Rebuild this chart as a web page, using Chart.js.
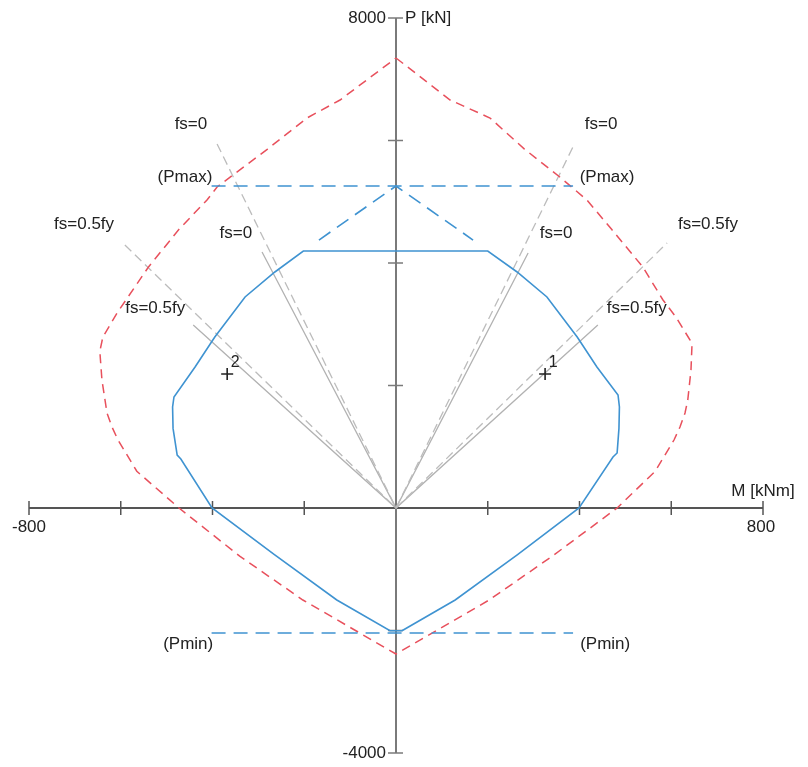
<!DOCTYPE html>
<html>
<head>
<meta charset="utf-8">
<title>P-M interaction diagram</title>
<script src="https://cdn.jsdelivr.net/npm/chart.js@4/dist/chart.umd.min.js"></script>
<style>
  html, body { margin: 0; padding: 0; background: #ffffff; }
  canvas { display: block; }
</style>
</head>
<body>
<canvas id="chart" width="808" height="767"></canvas>
<script>
// Design interaction envelope (phi-reduced), M in kNm, P in kN
const designM = [13, 129, 265, 399, 473, 482, 486, 487, 484, 438, 395, 329, 264, 200,
                 -202, -264, -329, -395, -438, -484, -487, -486, -477, -469, -401, -265, -129, -13, 13];
const designP = [-2005, -1502, -760, 0, 833, 898, 1300, 1649, 1845, 2302, 2792, 3445, 3853, 4196,
                 4196, 3853, 3445, 2792, 2302, 1812, 1649, 1300, 865, 800, 0, -760, -1502, -2005, -2005];

// Nominal interaction envelope
const nominalM = [0, 118, 205, 280, 357, 416, 470, 538, 582, 610, 641, 645, 643, 636, 630, 619, 606, 565, 482, 340, 203, 0,
                  -203, -340, -473, -565, -606, -619, -630, -641, -645, -645, -639, -608, -540, -473, -412, -390, -280, -194, -122, 0];
const nominalP = [7347, 6661, 6367, 5860, 5404, 5029, 4550, 3935, 3396, 3118, 2743, 2629, 2250, 1763, 1551, 1322, 1110, 600, 0, -790, -1502, -2384,
                  -1502, -790, 0, 600, 1110, 1322, 1551, 2090, 2498, 2580, 2792, 3184, 3930, 4550, 5029, 5241, 5860, 6367, 6661, 7347];

// Axial load limits
const pmaxM = [-402, 386];
const pmaxP = [5257, 5257];
const pminM = [-402, 386];
const pminP = [-2040, -2040];
const roofM = [-168, 0, 168];
const roofP = [4375, 5257, 4375];

// Steel stress rays through the origin (fs = 0 and fs = 0.5fy)
const fs0NominalM = [-390, 0, 390];
const fs0NominalP = [5943, 0, 5959];
const fs0DesignM = [-292, 0, 288];
const fs0DesignP = [4180, 0, 4163];
const fsHalfNominalM = [-591, 0, 591];
const fsHalfNominalP = [4294, 0, 4327];
const fsHalfDesignM = [-442, 0, 440];
const fsHalfDesignP = [2988, 0, 2988];

// Load cases
const loadM = [325, -368];
const loadP = [2188, 2188];
const loadNames = ['1', '2'];

// Axis ticks
const xTicks = [-800, -600, -400, -200, 200, 400, 600, 800];
const yTicks = [-4000, -2000, 2000, 4000, 6000, 8000];
const xEndLabels = ['-800', '800'];
const yEndLabels = ['8000', '-4000'];

// Curve annotations, anchored in data units
const notes = [
  { text: 'fs=0', m: -447, p: 6269 },
  { text: 'fs=0', m: 447, p: 6269 },
  { text: '(Pmax)', m: -460, p: 5404 },
  { text: '(Pmax)', m: 460, p: 5404 },
  { text: 'fs=0', m: -349, p: 4490 },
  { text: 'fs=0', m: 349, p: 4490 },
  { text: 'fs=0.5fy', m: -680, p: 4637 },
  { text: 'fs=0.5fy', m: 680, p: 4637 },
  { text: 'fs=0.5fy', m: -525, p: 3265 },
  { text: 'fs=0.5fy', m: 525, p: 3265 },
  { text: '(Pmin)', m: -453, p: -2220 },
  { text: '(Pmin)', m: 456, p: -2220 }
];

const pts = (ms, ps) => ms.map((m, i) => ({ x: m, y: ps[i] }));

const BLUE = '#3f93d1';
const RED = '#e8505c';
const GRAY_D = '#bcbcbc';
const GRAY_S = '#b2b2b2';
const TEXT = '#222222';
const FONT = '17px "Liberation Sans", Arial, sans-serif';

function line(data, color, width, dash, order) {
  return {
    data, showLine: true, fill: false, tension: 0,
    borderColor: color, borderWidth: width, borderDash: dash || [],
    pointRadius: 0, pointHoverRadius: 0, order
  };
}

const axesPlugin = {
  id: 'crossAxes',
  beforeDatasetsDraw(chart) {
    const { ctx, scales: { x, y } } = chart;
    const x0 = x.getPixelForValue(0);
    const y0 = y.getPixelForValue(0);
    ctx.save();
    // horizontal M axis
    ctx.strokeStyle = '#555555';
    ctx.lineWidth = 2;
    ctx.beginPath();
    ctx.moveTo(x.getPixelForValue(-800), y0);
    ctx.lineTo(x.getPixelForValue(800), y0);
    ctx.stroke();
    ctx.lineWidth = 1.5;
    xTicks.forEach(v => {
      const px = x.getPixelForValue(v);
      ctx.beginPath();
      ctx.moveTo(px, y0 - 7);
      ctx.lineTo(px, y0 + 7);
      ctx.stroke();
    });
    // vertical P axis
    ctx.strokeStyle = '#7a7a7a';
    ctx.lineWidth = 2;
    ctx.beginPath();
    ctx.moveTo(x0, y.getPixelForValue(8000));
    ctx.lineTo(x0, y.getPixelForValue(-4000));
    ctx.stroke();
    ctx.lineWidth = 1.5;
    yTicks.forEach(v => {
      const py = y.getPixelForValue(v);
      ctx.beginPath();
      ctx.moveTo(x0 - 8, py);
      ctx.lineTo(x0 + 7, py);
      ctx.stroke();
    });
    // axis labels
    ctx.fillStyle = TEXT;
    ctx.font = FONT;
    ctx.textBaseline = 'middle';
    ctx.textAlign = 'center';
    ctx.fillText(xEndLabels[0], x.getPixelForValue(-800), y0 + 19);
    ctx.fillText(xEndLabels[1], x.getPixelForValue(800) - 2, y0 + 19);
    ctx.fillText('M [kNm]', x.getPixelForValue(800), y0 - 17);
    ctx.textAlign = 'right';
    ctx.fillText(yEndLabels[0], x0 - 10, y.getPixelForValue(8000));
    ctx.fillText(yEndLabels[1], x0 - 10, y.getPixelForValue(-4000));
    ctx.textAlign = 'left';
    ctx.fillText('P [kN]', x0 + 9, y.getPixelForValue(8000));
    ctx.restore();
  },
  afterDatasetsDraw(chart) {
    const { ctx, scales: { x, y } } = chart;
    ctx.save();
    ctx.fillStyle = TEXT;
    ctx.font = FONT;
    ctx.textAlign = 'center';
    ctx.textBaseline = 'middle';
    notes.forEach(n => ctx.fillText(n.text, x.getPixelForValue(n.m), y.getPixelForValue(n.p)));
    ctx.font = '16px "Liberation Sans", Arial, sans-serif';
    loadNames.forEach((name, i) => {
      ctx.fillText(name, x.getPixelForValue(loadM[i]) + 8, y.getPixelForValue(loadP[i]) - 11);
    });
    ctx.restore();
  }
};

new Chart(document.getElementById('chart'), {
  type: 'scatter',
  data: {
    datasets: [
      {
        data: pts(loadM, loadP), showLine: false,
        pointStyle: 'cross', pointRadius: 6, pointHoverRadius: 6,
        borderColor: '#222222', borderWidth: 1.6, order: 0
      },
      line(pts(designM, designP), BLUE, 1.6, [], 1),
      line(pts(roofM, roofP), BLUE, 1.6, [14, 8], 1),
      line(pts(pmaxM, pmaxP), BLUE, 1.6, [14, 8], 1),
      line(pts(pminM, pminP), BLUE, 1.6, [14, 8], 1),
      line(pts(nominalM, nominalP), RED, 1.5, [9, 6], 2),
      line(pts(fs0NominalM, fs0NominalP), GRAY_D, 1.3, [9, 5], 3),
      line(pts(fsHalfNominalM, fsHalfNominalP), GRAY_D, 1.3, [9, 5], 3),
      line(pts(fs0DesignM, fs0DesignP), GRAY_S, 1.3, [], 3),
      line(pts(fsHalfDesignM, fsHalfDesignP), GRAY_S, 1.3, [], 3)
    ]
  },
  options: {
    responsive: false,
    devicePixelRatio: 1,
    animation: false,
    layout: { padding: { left: 29, right: 45, top: 18, bottom: 14 } },
    plugins: { legend: { display: false }, tooltip: { enabled: false } },
    events: [],
    scales: {
      x: { type: 'linear', min: -800, max: 800, display: false },
      y: { type: 'linear', min: -4000, max: 8000, display: false }
    }
  },
  plugins: [axesPlugin]
});
</script>
</body>
</html>
